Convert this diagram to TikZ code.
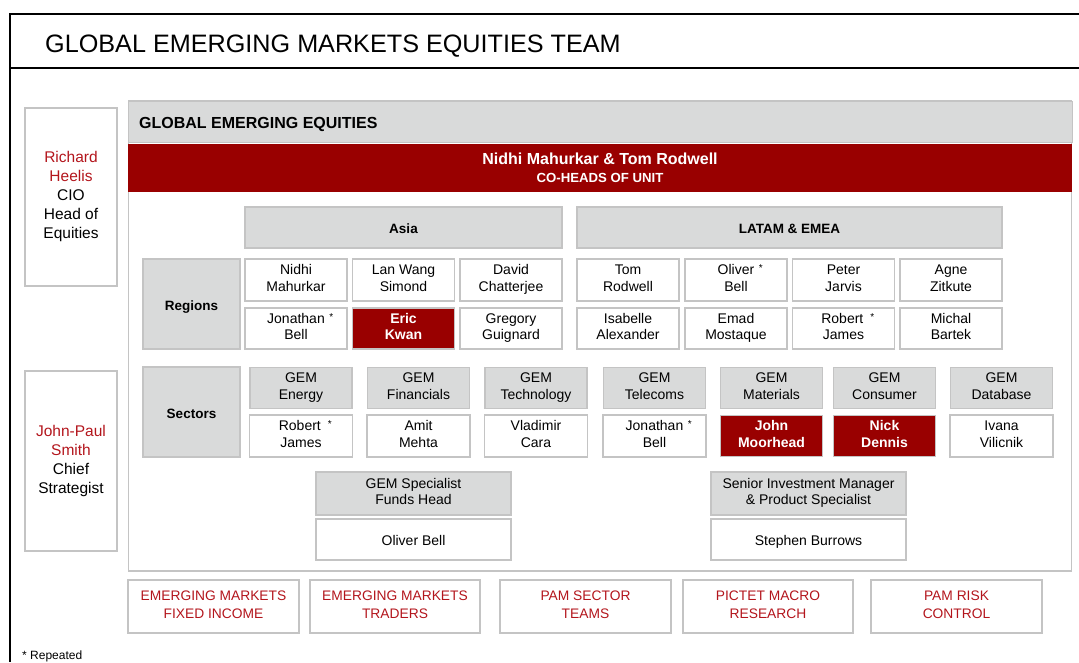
\documentclass[tikz,border=0pt]{standalone}
\usepackage{fontspec}
\setmainfont{Liberation Sans}
\definecolor{gemred}{HTML}{990000}
\definecolor{gemtext}{HTML}{B3151C}
\definecolor{gemgray}{HTML}{D9DADA}
\definecolor{gemline}{HTML}{C4C4C4}
\newcommand{\repmark}{\rlap{\,\,\raisebox{0.45ex}{\fontsize{10}{10}\selectfont *}}}
\newcommand{\gemstrut}[1]{\rule[-4pt]{0pt}{#1}}
\tikzset{
  cell/.style={draw=gemline, line width=1.3pt, fill=white, align=center, inner sep=0pt,
    minimum width=102pt, minimum height=41pt, font=\fontsize{14}{16.5}\selectfont,
    execute at begin node=\gemstrut{20pt}, execute at end node=\gemstrut{20pt}},
  headcell/.style={cell, fill=gemgray},
  redcell/.style={cell, fill=gemred, text=white, font=\fontsize{14}{16.5}\selectfont\bfseries},
  sectcell/.style={cell, minimum width=103pt, minimum height=42pt},
  labelcell/.style={headcell, minimum width=97pt, minimum height=90pt, font=\fontsize{13.5}{16}\selectfont\bfseries},
  sidebox/.style={draw=gemline, line width=1.3pt, align=center, inner sep=0pt, minimum width=92pt,
    font=\fontsize{15.5}{19}\selectfont, execute at begin node=\gemstrut{19pt}, execute at end node=\gemstrut{19pt}},
  outbox/.style={draw=gemline, line width=1.3pt, align=center, inner sep=0pt, minimum height=53pt,
    text=gemtext, font=\fontsize{13.8}{18}\selectfont, execute at begin node=\gemstrut{18pt}, execute at end node=\gemstrut{18pt}}
}
\begin{document}
\begin{tikzpicture}[x=1pt,y=-1pt]
\useasboundingbox (0,0) rectangle (1079,662);
% frame and title
\draw[line width=2pt] (1079,14) -- (10,14) -- (10,662);
\draw[line width=2pt] (10,68) -- (1079,68);
\node[anchor=base west, inner sep=0pt, font=\fontsize{25.2}{30}\selectfont] (title) at (45,52)
  {GLOBAL EMERGING MARKETS EQUITIES TEAM};
% left column
\node[sidebox, minimum height=178pt] (cio) at (71,197)
  {\textcolor{gemtext}{Richard}\\\textcolor{gemtext}{Heelis}\\CIO\\Head of\\Equities};
\node[sidebox, minimum height=180pt] (strat) at (71,461)
  {\textcolor{gemtext}{John-Paul}\\\textcolor{gemtext}{Smith}\\Chief\\Strategist};
% unit
\node[draw=gemline, line width=1.3pt, minimum width=943pt, minimum height=470pt, inner sep=0pt] (unit) at (600,336) {};
\node[fill=gemgray, draw=gemline, line width=1pt, minimum width=944pt, minimum height=41pt, inner sep=0pt] (unithead) at (600,121.5) {};
\node[anchor=base west, inner sep=0pt, font=\fontsize{16}{19}\selectfont\bfseries] (unitname) at (139,128)
  {GLOBAL EMERGING EQUITIES};
\node[fill=gemred, text=white, minimum width=944pt, minimum height=48pt, inner sep=0pt, align=center,
  font=\fontsize{16}{18}\selectfont\bfseries] (coheads) at (600,168)
  {Nidhi Mahurkar \& Tom Rodwell\\{\fontsize{13.2}{16}\selectfont CO-HEADS OF UNIT}};
% regions
\node[headcell, minimum width=317pt, font=\fontsize{13.5}{16}\selectfont\bfseries] (asia) at (403.5,227.5) {Asia};
\node[headcell, minimum width=425pt, font=\fontsize{13.5}{16}\selectfont\bfseries] (latam) at (789.5,227.5) {LATAM \& EMEA};
\node[labelcell] (regions) at (191.5,304) {Regions};
\node[cell, minimum height=42pt] (nidhi) at (296,280) {Nidhi\\Mahurkar};
\node[cell, minimum height=42pt] (lanwang) at (403.5,280) {Lan Wang\\Simond};
\node[cell, minimum height=42pt] (david) at (511,280) {David\\Chatterjee};
\node[cell, minimum height=42pt] (tom) at (628,280) {Tom\\Rodwell};
\node[cell, minimum height=42pt] (oliver) at (736,280) {Oliver\repmark\\Bell};
\node[cell, minimum height=42pt] (peter) at (843.5,280) {Peter\\Jarvis};
\node[cell, minimum height=42pt] (agne) at (951,280) {Agne\\Zitkute};
\node[cell] (jonathan) at (296,328.5) {Jonathan\repmark\\Bell};
\node[redcell] (eric) at (403.5,328.5) {Eric\\Kwan};
\node[cell] (gregory) at (511,328.5) {Gregory\\Guignard};
\node[cell] (isabelle) at (628,328.5) {Isabelle\\Alexander};
\node[cell] (emad) at (736,328.5) {Emad\\Mostaque};
\node[cell] (robert) at (843.5,328.5) {Robert\,\repmark\\James};
\node[cell] (michal) at (951,328.5) {Michal\\Bartek};
% sectors
\node[labelcell] (sectors) at (191.5,412) {Sectors};
\node[sectcell, headcell] (energy) at (301,388) {GEM\\Energy};
\node[sectcell, headcell] (financials) at (418.5,388) {GEM\\Financials};
\node[sectcell, headcell] (technology) at (536,388) {GEM\\Technology};
\node[sectcell, headcell] (telecoms) at (654.5,388) {GEM\\Telecoms};
\node[sectcell, headcell] (materials) at (771.5,388) {GEM\\Materials};
\node[sectcell, headcell] (consumer) at (884.5,388) {GEM\\Consumer};
\node[sectcell, headcell] (database) at (1001.5,388) {GEM\\Database};
\node[sectcell] (robertb) at (301,436) {Robert\,\repmark\\James};
\node[sectcell] (amit) at (418.5,436) {Amit\\Mehta};
\node[sectcell] (vladimir) at (536,436) {Vladimir\\Cara};
\node[sectcell] (jonathanb) at (654.5,436) {Jonathan\repmark\\Bell};
\node[sectcell, redcell] (john) at (771.5,436) {John\\Moorhead};
\node[sectcell, redcell] (nick) at (884.5,436) {Nick\\Dennis};
\node[sectcell] (ivana) at (1001.5,436) {Ivana\\Vilicnik};
% specialists
\node[headcell, minimum width=195pt, minimum height=43pt] (funds) at (413.5,493.5) {GEM Specialist\\Funds Head};
\node[cell, minimum width=195pt] (oliverb) at (413.5,539.5) {Oliver Bell};
\node[headcell, minimum width=195pt, minimum height=43pt] (senior) at (808.5,493.5) {Senior Investment Manager\\\& Product Specialist};
\node[cell, minimum width=195pt] (stephen) at (808.5,539.5) {Stephen Burrows};
% partner teams
\node[outbox, minimum width=171pt] (fixed) at (213.5,606.5) {EMERGING MARKETS\\FIXED INCOME};
\node[outbox, minimum width=170pt] (traders) at (395,606.5) {EMERGING MARKETS\\TRADERS};
\node[outbox, minimum width=171pt] (pamsector) at (585.5,606.5) {PAM SECTOR\\TEAMS};
\node[outbox, minimum width=170pt] (macro) at (768,606.5) {PICTET MACRO\\RESEARCH};
\node[outbox, minimum width=171pt] (risk) at (956.5,606.5) {PAM RISK\\CONTROL};
\node[anchor=base west, inner sep=0pt, font=\fontsize{12}{14}\selectfont] (repeated) at (22,659) {* Repeated};
\end{tikzpicture}
\end{document}
